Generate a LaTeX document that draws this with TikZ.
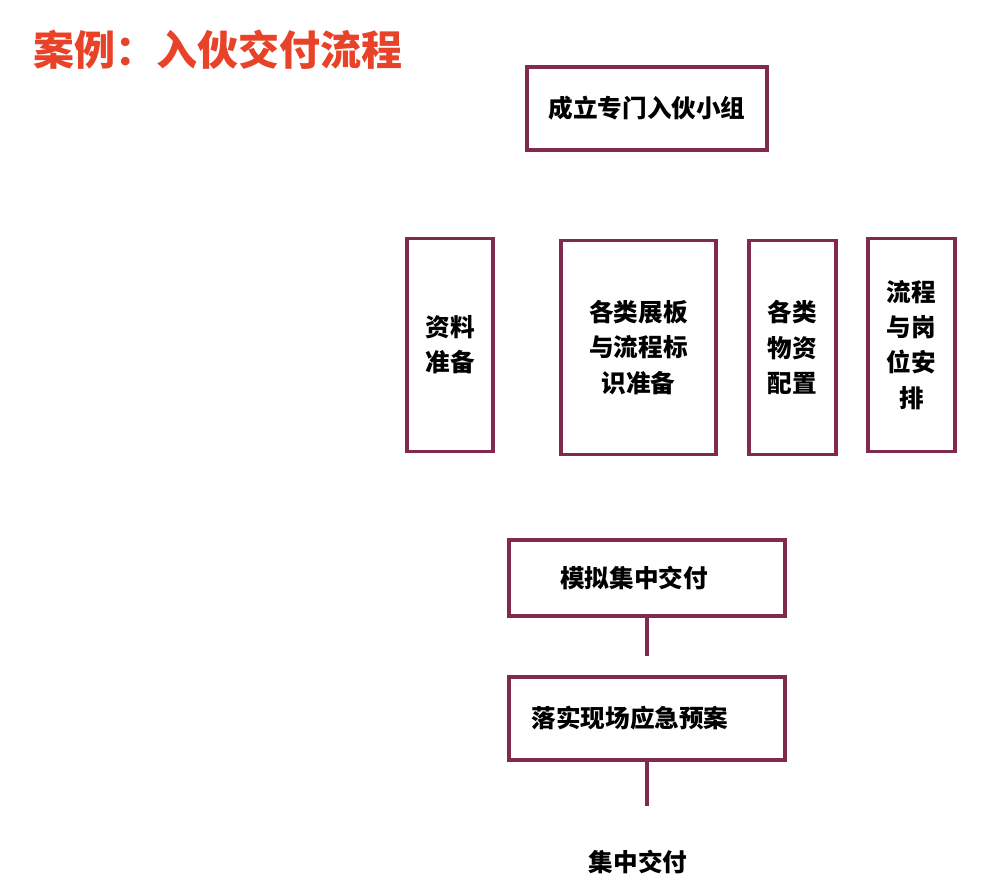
\documentclass[tikz,border=0pt]{standalone}
\usepackage{fontspec}
\newfontfamily\cjk{Noto Sans CJK SC}
\definecolor{boxline}{RGB}{128,42,78}
\definecolor{titlered}{RGB}{232,66,40}
\begin{document}
\begin{tikzpicture}[x=0.03cm,y=-0.03cm,line cap=butt,line join=miter,
	box/.style={draw=boxline,line width=2.8pt,inner sep=0pt,align=center,
		font=\cjk\bfseries\fontsize{21pt}{30pt}\selectfont},
	link/.style={draw=boxline,line width=2.8pt}]
			\useasboundingbox (0,0) rectangle (998,880);
			\node[anchor=west,text=titlered,font=\cjk\bfseries\fontsize{35pt}{38pt}\selectfont]
			(title) at (29,50) {案例：入伙交付流程};
			\node[box,minimum width=7.2cm,minimum height=2.49cm] (zuzhi) at (647,108.5) {成立专门入伙小组};
			\foreach \cx/\cy/\w/\name/\txt in {450/345/2.58/ziliao/{资料\\准备},
				638.5/347.5/4.65/zhanban/{各类展板\\与流程标\\识准备},
				792.5/347.5/2.61/wuzi/{各类\\物资\\配置},
				911.5/345/2.61/gangwei/{流程\\与岗\\位安\\排}}{
				\node[box,minimum width=\w cm,minimum height=6.4cm] (\name) at (\cx,\cy) {\txt};
			}
			\node[box,minimum width=8.28cm,minimum height=2.28cm] (moni) at (647,578) {模拟集中交付\hspace*{0.78cm}};
			\node[box,minimum width=8.28cm,minimum height=2.49cm] (yuan) at (647,718.5) {落实现场应急预案\hspace*{1.02cm}};
			\node[font=\cjk\bfseries\fontsize{21pt}{30pt}\selectfont] (jiaofu) at (638,862) {集中交付};
			\draw[link,shorten >=0.57cm] (moni.south) -- (yuan.north);
			\draw[link,shorten >=1.2cm] (yuan.south) -- (yuan.south|-jiaofu.north);
		\end{tikzpicture}
\end{document}
